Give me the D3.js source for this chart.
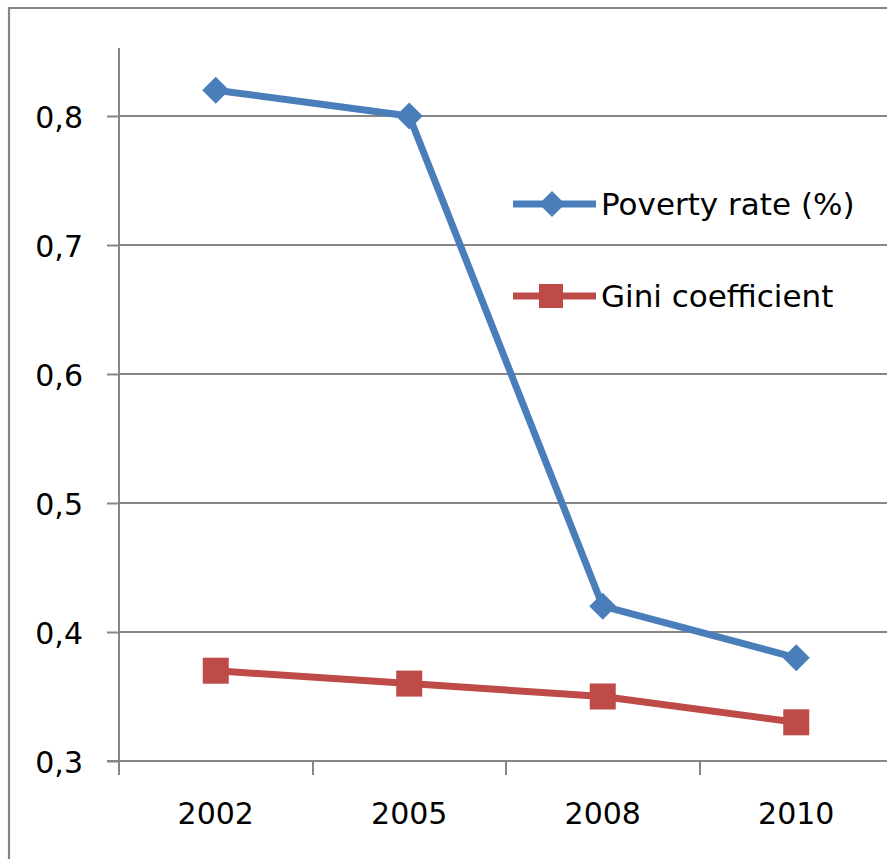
<!DOCTYPE html>
<html>
<head>
<meta charset="utf-8">
<script src="https://cdn.jsdelivr.net/npm/d3@7"></script>
<style>
  html, body { margin: 0; padding: 0; background: #fff; }
  svg { display: block; }
  text { font-family: "DejaVu Sans", Verdana, sans-serif; fill: #000; }
</style>
</head>
<body>
<script>
// Years on the category axis
const years = ["2002", "2005", "2008", "2010"];
// Poverty rate series
const povertyRate = [0.82, 0.80, 0.42, 0.38];
// Gini coefficient series
const giniCoefficient = [0.37, 0.36, 0.35, 0.33];
// Value axis ticks
const yTicks = [0.3, 0.4, 0.5, 0.6, 0.7, 0.8];
const seriesNames = ["Poverty rate (%)", "Gini coefficient"];

const W = 887, H = 859;
const svg = d3.select("body").append("svg").attr("width", W).attr("height", H);

const fmt = v => d3.format(".1f")(v).replace(".", ",");

const x = d3.scaleBand().domain(years).range([119, 893]);
const y = d3.scaleLinear().domain([0.3, 0.8]).range([761, 116]);
const axisTop = 48;
const gray = "#868686";

// outer chart frame (left and top edges)
svg.append("path")
  .attr("d", `M9,${H} V8 H${W}`)
  .attr("fill", "none").attr("stroke", gray).attr("stroke-width", 2.2);

// horizontal gridlines
svg.append("g").selectAll("line").data(yTicks.slice(1)).join("line")
  .attr("x1", 119).attr("x2", W)
  .attr("y1", d => Math.round(y(d))).attr("y2", d => Math.round(y(d)))
  .attr("stroke", gray).attr("stroke-width", 2);

// value axis
const yAxis = svg.append("g").attr("transform", "translate(119,0)")
  .call(d3.axisLeft(y).tickValues(yTicks).tickFormat(fmt).tickSize(12).tickPadding(24));
yAxis.select(".domain").remove();
yAxis.selectAll(".tick line").attr("stroke", gray).attr("stroke-width", 2);
yAxis.selectAll(".tick text").attr("font-size", 30).attr("font-family", "DejaVu Sans")
  .attr("fill", "#000").attr("dy", "0.38em");
svg.append("line").attr("x1", 119).attr("x2", 119).attr("y1", axisTop).attr("y2", 775)
  .attr("stroke", gray).attr("stroke-width", 2);

// category axis
const xAxis = svg.append("g").attr("transform", `translate(0,${y(0.3)})`)
  .call(d3.axisBottom(x).tickSize(0).tickPadding(42));
xAxis.select(".domain").remove();
xAxis.selectAll(".tick text").attr("font-size", 30).attr("font-family", "DejaVu Sans").attr("fill", "#000");
svg.append("line").attr("x1", 107).attr("x2", W).attr("y1", y(0.3)).attr("y2", y(0.3))
  .attr("stroke", gray).attr("stroke-width", 2);
// category boundary ticks
svg.append("g").selectAll("line").data(years).join("line")
  .attr("x1", d => Math.round(x(d))).attr("x2", d => Math.round(x(d)))
  .attr("y1", y(0.3)).attr("y2", y(0.3) + 14)
  .attr("stroke", gray).attr("stroke-width", 2);

const cx = d => x(d) + x.bandwidth() / 2;
const blue = "#4A7EBB", red = "#BE4B48";

const line = d3.line().x(d => cx(d.year)).y(d => y(d.value));
const pov = years.map((yr, i) => ({ year: yr, value: povertyRate[i] }));
const gini = years.map((yr, i) => ({ year: yr, value: giniCoefficient[i] }));

svg.append("path").datum(gini).attr("d", line)
  .attr("fill", "none").attr("stroke", red).attr("stroke-width", 7).attr("stroke-linejoin", "round");
svg.append("path").datum(pov).attr("d", line)
  .attr("fill", "none").attr("stroke", blue).attr("stroke-width", 7).attr("stroke-linejoin", "round");

const diamond = (px, py, r) => `M${px},${py - r} L${px + r},${py} L${px},${py + r} L${px - r},${py} Z`;

svg.append("g").selectAll("path").data(pov).join("path")
  .attr("d", d => diamond(cx(d.year), y(d.value), 13.5))
  .attr("fill", blue);

svg.append("g").selectAll("rect").data(gini).join("rect")
  .attr("x", d => cx(d.year) - 13).attr("y", d => y(d.value) - 13)
  .attr("width", 26).attr("height", 26)
  .attr("fill", red);

// legend
const legend = svg.append("g");
const legendRows = [
  { name: seriesNames[0], color: blue, ly: 204, marker: "diamond" },
  { name: seriesNames[1], color: red, ly: 296, marker: "square" }
];
legendRows.forEach(r => {
  legend.append("line").attr("x1", 513).attr("x2", 596).attr("y1", r.ly).attr("y2", r.ly)
    .attr("stroke", r.color).attr("stroke-width", 7);
  if (r.marker === "diamond") {
    legend.append("path").attr("d", diamond(552, r.ly, 13)).attr("fill", r.color);
  } else {
    legend.append("rect").attr("x", 539).attr("y", r.ly - 12).attr("width", 24).attr("height", 24)
      .attr("fill", r.color);
  }
  legend.append("text").attr("x", 601).attr("y", r.ly + 11)
    .attr("font-size", 31).text(r.name);
});
</script>
</body>
</html>
